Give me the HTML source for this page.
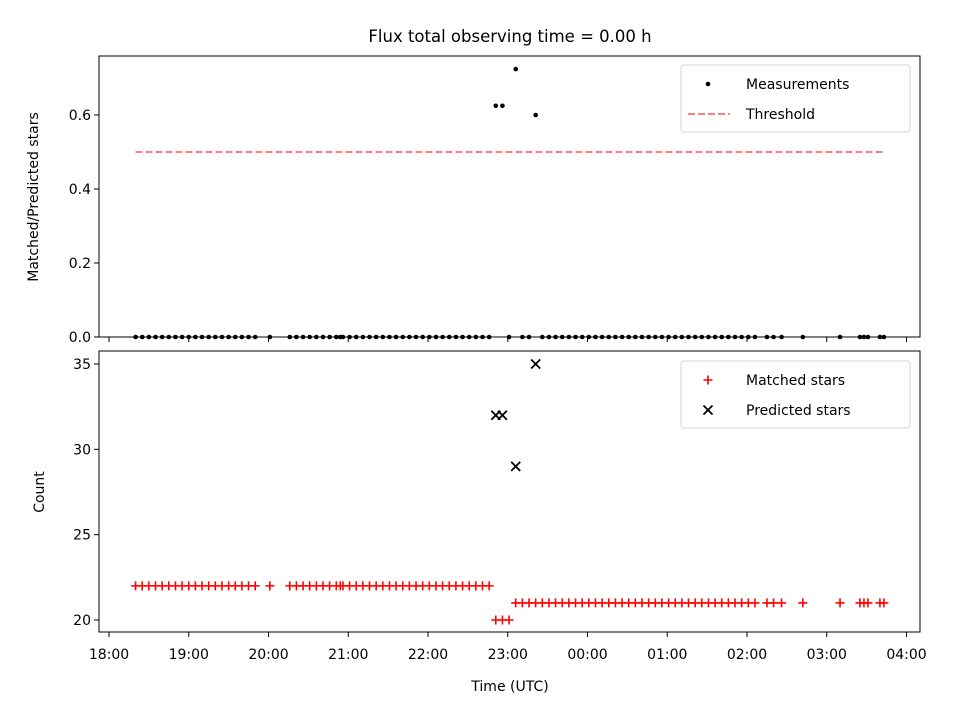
<!DOCTYPE html>
<html><head><meta charset="utf-8"><style>
body{margin:0;background:#fff}
svg text{font-family:"DejaVu Sans","Liberation Sans",sans-serif;fill:#000}
</style></head><body>
<svg id="chart" width="960" height="720" viewBox="0 0 960 720" xmlns="http://www.w3.org/2000/svg">
<rect width="960" height="720" fill="#fff"/>
<text x="510" y="42" font-size="16.5" text-anchor="middle">Flux total observing time = 0.00 h</text>
<g id="topPanel"></g>
<g id="botPanel"></g>
</svg>
<script>
// minutes since 18:00 UTC
const times = [20,25,30,35,40,45,50,55,60,65,70,75,80,85,90,95,100,105,110,121,
136,141,146,151,156,161,166,171,174,176,181,186,191,196,201,206,211,216,221,226,231,236,241,246,251,256,261,266,271,276,281,286,
291,296,301,
306,311,316,321,326,331,336,341,346,351,356,361,366,371,376,381,386,391,396,401,406,411,416,421,426,431,436,441,446,451,456,461,466,471,476,481,486,495,500,506,522,550,565,568,571,580,583];
const matched = [22,22,22,22,22,22,22,22,22,22,22,22,22,22,22,22,22,22,22,22,
22,22,22,22,22,22,22,22,22,22,22,22,22,22,22,22,22,22,22,22,22,22,22,22,22,22,22,22,22,22,22,22,
20,20,20,
21,21,21,21,21,21,21,21,21,21,21,21,21,21,21,21,21,21,21,21,21,21,21,21,21,21,21,21,21,21,21,21,21,21,21,21,21,21,21,21,21,21,21,21,21,21,21];
const predTimes = [291,296,306,321];
const predicted = [32,32,29,35];
const threshold = 0.5;
const xTickLabels = ["18:00","19:00","20:00","21:00","22:00","23:00","00:00","01:00","02:00","03:00","04:00"];
const topTicks = [0.0,0.2,0.4,0.6];
const botTicks = [20,25,30,35];

const NS="http://www.w3.org/2000/svg";
function mk(parent,tag,attrs){const e=document.createElementNS(NS,tag);for(const k in attrs)e.setAttribute(k,attrs[k]);parent.appendChild(e);return e;}
const X0=99,X1=920;
const xs=m=>109+m*(797.5/600);
const T={y0:56,y1:337}, B={y0:351,y1:632};
const yt=v=>337-v*370;
const yb=v=>620-(v-20)*(256/15);
const topG=document.getElementById('topPanel'), botG=document.getElementById('botPanel');

function frame(g,P,name){
  const r=mk(g,'rect',{x:X0,y:P.y0,width:X1-X0,height:P.y1-P.y0,fill:'none',stroke:'#000','stroke-width':1});
  
  
  xTickLabels.forEach((l,i)=>{
    const x=xs(i*60);
    const t=mk(g,'line',{x1:x,x2:x,y1:P.y1,y2:P.y1+5,stroke:'#000'});
    
    
  });
}
frame(topG,T,'ratio-axes-frame');frame(botG,B,'count-axes-frame');

topTicks.forEach(v=>{const y=yt(v);
  mk(topG,'line',{x1:X0-5,x2:X0,y1:y,y2:y,stroke:'#000'});
  const t=mk(topG,'text',{x:X0-8,y:y+5,'font-size':14,'text-anchor':'end'});t.textContent=v.toFixed(1);
  
  
});
botTicks.forEach(v=>{const y=yb(v);
  mk(botG,'line',{x1:X0-5,x2:X0,y1:y,y2:y,stroke:'#000'});
  const t=mk(botG,'text',{x:X0-8,y:y+5,'font-size':14,'text-anchor':'end'});t.textContent=v;
  
  
});
xTickLabels.forEach((l,i)=>{
  const t=mk(botG,'text',{x:xs(i*60),y:B.y1+27,'font-size':14,'text-anchor':'middle'});t.textContent=l;
  
  
});
let t=mk(botG,'text',{x:510,y:691,'font-size':14,'text-anchor':'middle'});t.textContent='Time (UTC)';


t=mk(topG,'text',{x:0,y:0,'font-size':14,'text-anchor':'middle',transform:'translate(38,197) rotate(-90)'});t.textContent='Matched/Predicted stars';


t=mk(botG,'text',{x:0,y:0,'font-size':14,'text-anchor':'middle',transform:'translate(44,492) rotate(-90)'});t.textContent='Count';



const th=mk(topG,'line',{x1:xs(Math.min(...times)),x2:xs(Math.max(...times)),y1:yt(threshold),y2:yt(threshold),stroke:'#ff7f7f','stroke-width':2,'stroke-dasharray':'7,3'});


times.forEach((m,i)=>{
  const pi=predTimes.indexOf(m);
  const r=pi>=0?matched[i]/predicted[pi]:0;
  const c=mk(topG,'circle',{cx:xs(m),cy:yt(r),r:2.3,fill:'#000'});
  
  
});
times.forEach((m,i)=>{
  const x=xs(m),y=yb(matched[i]);
  const p=mk(botG,'path',{d:`M${x-4.5},${y}H${x+4.5}M${x},${y-4.5}V${y+4.5}`,stroke:'#f00','stroke-width':1.6});
  
  
});
predTimes.forEach((m,i)=>{
  const x=xs(m),y=yb(predicted[i]);
  const p=mk(botG,'path',{d:`M${x-4.5},${y-4.5}L${x+4.5},${y+4.5}M${x-4.5},${y+4.5}L${x+4.5},${y-4.5}`,stroke:'#000','stroke-width':1.8});
  
  
});
function legend(g,y0,items,name){
  const lg=mk(g,'g',{});
  
  
  mk(lg,'rect',{x:681,y:y0,width:229,height:67,rx:3,fill:'#fff',stroke:'#d5d5d5'});
  items.forEach((it,i)=>{
    const y=y0+19+i*30;
    it.draw(lg,708,y);
    const tx=mk(lg,'text',{x:746,y:y+5,'font-size':14});tx.textContent=it.label;
    
    
  });
}
legend(topG,65,[
 {label:'Measurements',draw:(g,x,y)=>mk(g,'circle',{cx:x,cy:y,r:2.3,fill:'#000'})},
 {label:'Threshold',draw:(g,x,y)=>mk(g,'line',{x1:x-20,x2:x+22,y1:y,y2:y,stroke:'#ff7f7f','stroke-width':2,'stroke-dasharray':'7,3'})}
],'ratio-legend');
legend(botG,361,[
 {label:'Matched stars',draw:(g,x,y)=>mk(g,'path',{d:`M${x-4.5},${y}H${x+4.5}M${x},${y-4.5}V${y+4.5}`,stroke:'#f00','stroke-width':1.6})},
 {label:'Predicted stars',draw:(g,x,y)=>mk(g,'path',{d:`M${x-4.5},${y-4.5}L${x+4.5},${y+4.5}M${x-4.5},${y+4.5}L${x+4.5},${y-4.5}`,stroke:'#000','stroke-width':1.8})}
],'count-legend');
</script>
</body></html>
